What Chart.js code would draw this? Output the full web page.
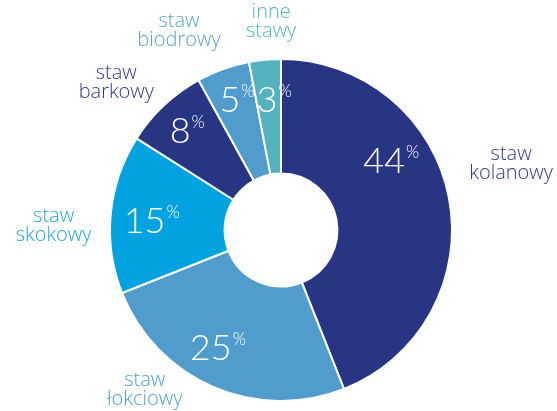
<!DOCTYPE html>
<html>
<head>
<meta charset="utf-8">
<script src="https://cdn.jsdelivr.net/npm/chart.js@4/dist/chart.umd.min.js"></script>
<style>
  body { margin: 0; background: #fff; }
  canvas { display: block; }
</style>
</head>
<body>
<canvas id="myChart" width="557" height="411"></canvas>
<script>
const ctx = document.getElementById("myChart");

/* input values */
var names = [
  ["staw", "kolanowy"],
  ["staw", "łokciowy"],
  ["staw", "skokowy"],
  ["staw", "barkowy"],
  ["staw", "biodrowy"],
  ["inne", "stawy"],
];
var shares = [44, 25, 15, 8, 5, 3];

var sliceColors = ["#283583", "#509dcd", "#00a3e0", "#283583", "#509dcd", "#55b3c1"];
var textColors = ["#2e3a8c", "#509dcd", "#1ea6e0", "#2e3a8c", "#5aa2d2", "#55b3c1"];

/* label placement: angle shift (deg) and radius factor */
var pctPlace = [[-23.4, 0.73], [7.5, 0.8], [-1.2, 0.8], [-2.1, 0.83], [-1.6, 0.82], [-0.7, 0.77]];
var namePlace = [[-5.2, 1.4], [17, 1.23], [-4.4, 1.33], [-5.1, 1.29], [-7.3, 1.31], [2.7, 1.22]];

const labelPlugin = {
  id: "sliceLabels",
  afterDatasetsDraw(chart) {
    const c = chart.ctx;
    const arcs = chart.getDatasetMeta(0).data;
    c.save();
    arcs.forEach((arc, i) => {
      const mid = (arc.startAngle + arc.endAngle) / 2;
      const R = arc.outerRadius;

      // percentage inside
      let a = mid + pctPlace[i][0] * Math.PI / 180;
      let x = arc.x + Math.cos(a) * R * pctPlace[i][1];
      let y = arc.y + Math.sin(a) * R * pctPlace[i][1];
      const big = 36;
      c.fillStyle = "#fff";
      c.textBaseline = "alphabetic";
      c.font = "300 " + big + "px Lato, 'Open Sans', sans-serif";
      const num = String(shares[i]);
      const w = c.measureText(num).width;
      c.textAlign = "center";
      c.fillText(num, x, y + big * 0.36);
      c.font = "300 17px Lato, 'Open Sans', sans-serif";
      c.textAlign = "left";
      c.fillText("%", x + w / 2 + 1, y - big * 0.06);

      // category name outside
      a = mid + namePlace[i][0] * Math.PI / 180;
      x = arc.x + Math.cos(a) * R * namePlace[i][1];
      y = arc.y + Math.sin(a) * R * namePlace[i][1];
      c.fillStyle = textColors[i];
      c.font = "300 20px 'Open Sans', Lato, sans-serif";
      c.textAlign = "center";
      c.textBaseline = "middle";
      c.fillText(names[i][0], x, y - 9.5);
      c.fillText(names[i][1], x, y + 9.5);
    });
    c.restore();
  },
};

new Chart(ctx, {
  type: "doughnut",
  data: {
    labels: names.map((n) => n.join(" ")),
    datasets: [
      {
        data: shares,
        backgroundColor: sliceColors,
        borderColor: "#ffffff",
        borderWidth: 2,
      },
    ],
  },
  options: {
    responsive: false,
    animation: false,
    cutout: "33%",
    layout: { padding: { top: 58, bottom: 9, left: 5, right: 0 } },
    plugins: {
      legend: { display: false },
      tooltip: { enabled: false },
    },
  },
  plugins: [labelPlugin],
});
</script>
</body>
</html>
